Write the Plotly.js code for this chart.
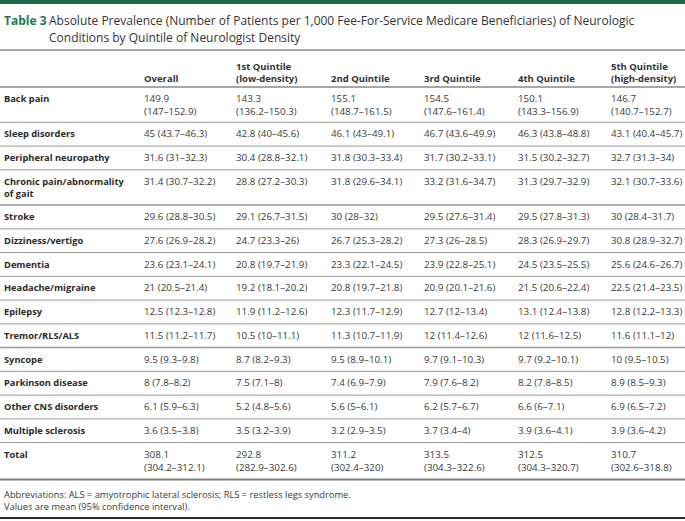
<!DOCTYPE html>
<html>
<head>
<meta charset="utf-8">
<script src="https://cdn.plot.ly/plotly-3.0.1.min.js"></script>
<style>html,body{margin:0;padding:0;background:#fff;}#chart{width:685px;height:521px;}</style>
</head>
<body>
<div id="chart"></div>
<script>
// ---- Data ----
const tableNumber = "Table 3";
const titleLines = [
  "Absolute Prevalence (Number of Patients per 1,000 Fee-For-Service Medicare Beneficiaries) of Neurologic",
  "Conditions by Quintile of Neurologist Density"
];
const columnHeaders = ["Overall", "1st Quintile<br>(low-density)", "2nd Quintile", "3rd Quintile", "4th Quintile", "5th Quintile<br>(high-density)"];
const conditions = [
  "Back pain", "Sleep disorders", "Peripheral neuropathy", "Chronic pain/abnormality<br>of gait",
  "Stroke", "Dizziness/vertigo", "Dementia", "Headache/migraine", "Epilepsy", "Tremor/RLS/ALS",
  "Syncope", "Parkinson disease", "Other CNS disorders", "Multiple sclerosis", "Total"
];
const overallMean = [149.9, 45, 31.6, 31.4, 29.6, 27.6, 23.6, 21, 12.5, 11.5, 9.5, 8, 6.1, 3.6, 308.1];
const overallLow  = [147, 43.7, 31, 30.7, 28.8, 26.9, 23.1, 20.5, 12.3, 11.2, 9.3, 7.8, 5.9, 3.5, 304.2];
const overallHigh = [152.9, 46.3, 32.3, 32.2, 30.5, 28.2, 24.1, 21.4, 12.8, 11.7, 9.8, 8.2, 6.3, 3.8, 312.1];
const q1Mean = [143.3, 42.8, 30.4, 28.8, 29.1, 24.7, 20.8, 19.2, 11.9, 10.5, 8.7, 7.5, 5.2, 3.5, 292.8];
const q1Low  = [136.2, 40, 28.8, 27.2, 26.7, 23.3, 19.7, 18.1, 11.2, 10, 8.2, 7.1, 4.8, 3.2, 282.9];
const q1High = [150.3, 45.6, 32.1, 30.3, 31.5, 26, 21.9, 20.2, 12.6, 11.1, 9.3, 8, 5.6, 3.9, 302.6];
const q2Mean = [155.1, 46.1, 31.8, 31.8, 30, 26.7, 23.3, 20.8, 12.3, 11.3, 9.5, 7.4, 5.6, 3.2, 311.2];
const q2Low  = [148.7, 43, 30.3, 29.6, 28, 25.3, 22.1, 19.7, 11.7, 10.7, 8.9, 6.9, 5, 2.9, 302.4];
const q2High = [161.5, 49.1, 33.4, 34.1, 32, 28.2, 24.5, 21.8, 12.9, 11.9, 10.1, 7.9, 6.1, 3.5, 320];
const q3Mean = [154.5, 46.7, 31.7, 33.2, 29.5, 27.3, 23.9, 20.9, 12.7, 12, 9.7, 7.9, 6.2, 3.7, 313.5];
const q3Low  = [147.6, 43.6, 30.2, 31.6, 27.6, 26, 22.8, 20.1, 12, 11.4, 9.1, 7.6, 5.7, 3.4, 304.3];
const q3High = [161.4, 49.9, 33.1, 34.7, 31.4, 28.5, 25.1, 21.6, 13.4, 12.6, 10.3, 8.2, 6.7, 4, 322.6];
const q4Mean = [150.1, 46.3, 31.5, 31.3, 29.5, 28.3, 24.5, 21.5, 13.1, 12, 9.7, 8.2, 6.6, 3.9, 312.5];
const q4Low  = [143.3, 43.8, 30.2, 29.7, 27.8, 26.9, 23.5, 20.6, 12.4, 11.6, 9.2, 7.8, 6, 3.6, 304.3];
const q4High = [156.9, 48.8, 32.7, 32.9, 31.3, 29.7, 25.5, 22.4, 13.8, 12.5, 10.1, 8.5, 7.1, 4.1, 320.7];
const q5Mean = [146.7, 43.1, 32.7, 32.1, 30, 30.8, 25.6, 22.5, 12.8, 11.6, 10, 8.9, 6.9, 3.9, 310.7];
const q5Low  = [140.7, 40.4, 31.3, 30.7, 28.4, 28.9, 24.6, 21.4, 12.2, 11.1, 9.5, 8.5, 6.5, 3.6, 302.6];
const q5High = [152.7, 45.7, 34, 33.6, 31.7, 32.7, 26.7, 23.5, 13.3, 12, 10.5, 9.3, 7.2, 4.2, 318.8];
const footnotes = [
  "Abbreviations: ALS = amyotrophic lateral sclerosis; RLS = restless legs syndrome.",
  "Values are mean (95% confidence interval)."
];

// ---- Layout helpers ----
const FONT = "'Open Sans', 'Noto Sans', sans-serif";
const TXT = "#3a3a3a";
const colX = [0, 143, 235, 330, 423, 517, 610];
const columns = [
  [overallMean, overallLow, overallHigh],
  [q1Mean, q1Low, q1High],
  [q2Mean, q2Low, q2High],
  [q3Mean, q3Low, q3High],
  [q4Mean, q4Low, q4High],
  [q5Mean, q5Low, q5High]
];

const annotations = [];
const shapes = [];
function txt(x, y, text, opts) {
  annotations.push(Object.assign({
    x: x, y: y, xref: 'x', yref: 'y', text: text, showarrow: false,
    xanchor: 'left', yanchor: 'top', align: 'left', borderpad: 0,
    font: {family: FONT, size: 9.8, color: TXT}
  }, opts || {}));
}
function hline(y, w, color) {
  shapes.push({type: 'line', xref: 'x', yref: 'y', x0: 0, x1: 685, y0: y, y1: y,
    line: {color: color, width: w}});
}

// top band
shapes.push({type: 'rect', xref: 'x', yref: 'y', x0: 0, x1: 685, y0: 0, y1: 4, line: {width: 0}, fillcolor: '#1d6b4b'});

// title
txt(3, 20, "<b>" + tableNumber + "</b>", {yanchor: 'middle', font: {family: FONT, size: 12, color: '#1f7a4f'}});
txt(48, 20, titleLines[0], {yanchor: 'middle', font: {family: FONT, size: 12, color: '#333'}});
txt(48, 37.5, titleLines[1], {yanchor: 'middle', font: {family: FONT, size: 12, color: '#333'}});

// header
hline(50, 1.6, '#8a8a8a');
columnHeaders.forEach((h, i) => {
  txt(colX[i + 1], 86, "<b>" + h + "</b>", {yanchor: 'bottom', font: {family: FONT, size: 9.5, color: '#333'}});
});
hline(87, 1.5, '#8a8a8a');

// body rows
let rowTop = 87;
conditions.forEach((c, r) => {
  const wide = overallMean[r] >= 100;
  const nLines = (wide || c.indexOf('<br>') >= 0) ? 2 : 1;
  const h = nLines === 2 ? 35.3 : 23.75;
  const yt = rowTop + 4;
  txt(3, yt, "<b>" + c + "</b>", {font: {family: FONT, size: 9.3, color: '#2a2a2a'}});
  columns.forEach((col, ci) => {
    const m = col[0][r], lo = col[1][r], hi = col[2][r];
    const ci95 = "(" + lo + "\u2013" + hi + ")";
    txt(colX[ci + 1], yt, wide ? (m + "<br>" + ci95) : (m + " " + ci95));
  });
  rowTop += h;
  const last = r === conditions.length - 1;
  if (last) rowTop += 1.5;
  const heavy = (r === 3 || r === 9);
  hline(rowTop, last ? 2 : (heavy ? 1.5 : 1), last ? '#808080' : '#9a9a9a');
});

// footnotes
txt(3, 487, footnotes.join("<br>"), {font: {family: FONT, size: 9.3, color: '#3a3a3a'}});
hline(518, 2, '#2a2a2a');

const layout = {
  width: 685, height: 521,
  margin: {l: 0, r: 0, t: 0, b: 0, pad: 0},
  paper_bgcolor: '#fff', plot_bgcolor: '#fff',
  xaxis: {range: [0, 685], visible: false, fixedrange: true},
  yaxis: {range: [521, 0], visible: false, fixedrange: true},
  showlegend: false,
  shapes: shapes,
  annotations: annotations
};
Plotly.newPlot('chart', [{x: [], y: [], type: 'scatter', mode: 'markers', hoverinfo: 'skip'}], layout, {displayModeBar: false, staticPlot: true});
</script>
</body>
</html>
